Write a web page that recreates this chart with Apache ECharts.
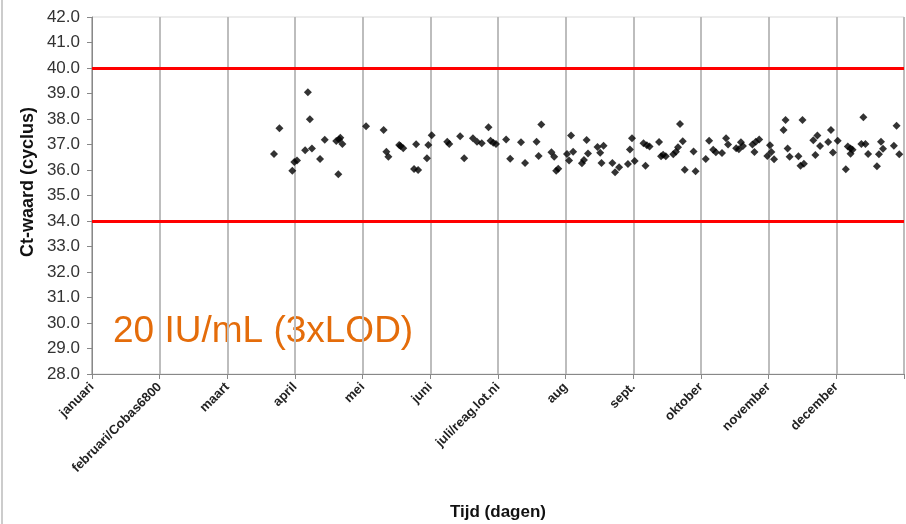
<!DOCTYPE html>
<html>
<head>
<meta charset="utf-8">
<script src="https://cdn.jsdelivr.net/npm/echarts@6/dist/echarts.min.js"></script>
<style>
  html, body { margin: 0; padding: 0; background: #fff; }
  #chart { width: 906px; height: 524px; }
</style>
</head>
<body>
<div id="chart"></div>
<script>
// maanden op de x-as (positie 0..11, as loopt tot 12)
const months = ['januari', 'februari/Cobas6800', 'maart', 'april', 'mei', 'juni',
  'juli/reag.lot.ni', 'aug', 'sept.', 'oktober', 'november', 'december'];

// tijd in maanden (fractie) en Ct-waarde per meting
const tijd = [
  2.69, 2.77, 2.96, 2.99, 3.03, 3.15, 3.19, 3.22, 3.25, 3.37, 3.44, 3.61, 3.65, 3.67, 3.64, 3.70,
  4.05, 4.31, 4.35, 4.38, 4.54, 4.56, 4.60, 4.76, 4.82, 4.79, 4.95, 4.97,
  5.02, 5.25, 5.28, 5.44, 5.50, 5.63, 5.69, 5.76, 5.86, 5.89, 5.93, 5.97,
  6.12, 6.18, 6.34, 6.40, 6.57, 6.60, 6.64, 6.79, 6.83, 6.86, 6.89,
  7.02, 7.05, 7.08, 7.11, 7.24, 7.27, 7.31, 7.33, 7.47, 7.51, 7.56, 7.53, 7.69, 7.73, 7.79, 7.92, 7.95, 7.98,
  8.02, 8.15, 8.20, 8.24, 8.18, 8.38, 8.41, 8.44, 8.48, 8.59, 8.63, 8.66, 8.69, 8.73, 8.76, 8.89, 8.92,
  9.07, 9.12, 9.18, 9.22, 9.31, 9.37, 9.40, 9.52, 9.56, 9.59, 9.62, 9.76, 9.81, 9.86, 9.79, 9.98,
  10.02, 10.04, 10.08, 10.22, 10.25, 10.28, 10.31, 10.44, 10.47, 10.50, 10.52, 10.66, 10.69, 10.72, 10.76,
  10.88, 10.92, 10.95, 11.02, 11.14, 11.17, 11.21, 11.21, 11.24, 11.37, 11.40, 11.43, 11.47,
  11.60, 11.63, 11.66, 11.69, 11.85, 11.89, 11.93
];
const ctWaarde = [
  36.63, 37.64, 35.97, 36.31, 36.37, 36.77, 39.05, 37.99, 36.84, 36.43, 37.19, 37.14, 37.20, 37.26, 35.83, 37.02,
  37.72, 37.57, 36.72, 36.52, 36.98, 36.94, 36.85, 36.04, 36.00, 37.01, 36.46, 36.98,
  37.36, 37.11, 37.02, 37.32, 36.46, 37.25, 37.11, 37.05, 37.68, 37.15, 37.07, 37.02,
  37.20, 36.44, 37.09, 36.27, 37.11, 36.55, 37.78, 36.70, 36.52, 35.97, 36.05,
  36.63, 36.37, 37.35, 36.72, 36.26, 36.39, 37.18, 36.65, 36.90, 36.68, 36.95, 36.27, 36.27, 35.91, 36.11, 36.24, 36.80, 37.25,
  36.35, 37.05, 36.97, 36.92, 36.17, 37.10, 36.54, 36.60, 36.54, 36.62, 36.72, 36.89, 37.80, 37.13, 36.01, 36.73, 35.95,
  36.43, 37.15, 36.79, 36.70, 36.67, 37.25, 37.00, 36.85, 36.81, 37.09, 36.94, 37.00, 37.11, 37.20, 36.71, 36.55,
  36.97, 36.71, 36.42, 37.57, 37.96, 36.84, 36.52, 36.54, 36.17, 37.96, 36.25, 37.17, 36.59, 37.35, 36.94,
  37.10, 37.57, 36.69, 37.15, 36.03, 36.92, 36.84, 36.64, 36.79, 37.02, 38.07, 37.02, 36.63,
  36.15, 36.62, 37.11, 36.83, 36.95, 37.74, 36.62
];

// grenzen
const grenzen = [34, 40];

const chart = echarts.init(document.getElementById('chart'));

chart.setOption({
  animation: false,
  grid: {
    left: 92,
    right: 2,
    top: 17,
    bottom: 150,
    outerBoundsMode: 'none',
    show: true,
    borderColor: '#d9d9d9',
    borderWidth: 1
  },
  graphic: [
    {
      type: 'line',
      shape: { x1: 2, y1: 0, x2: 2, y2: 524 },
      style: { stroke: '#999', lineWidth: 1 }
    },
    {
      type: 'text',
      left: 113,
      top: 313,
      style: {
        text: '20 IU/mL (3xLOD)',
        fill: '#e46c0a',
        font: '37px "Liberation Sans", Arial, sans-serif'
      }
    },
    {
      // as-titel links, iets boven het midden zoals in het origineel
      type: 'text',
      x: 28,
      y: 182,
      rotation: Math.PI / 2,
      style: {
        text: 'Ct-waard (cyclus)',
        fill: '#111',
        font: 'bold 18px "Liberation Sans", Arial, sans-serif',
        align: 'center',
        verticalAlign: 'middle'
      }
    }
  ],
  xAxis: {
    type: 'value',
    min: 0,
    max: 12,
    interval: 1,
    name: 'Tijd (dagen)',
    nameLocation: 'middle',
    nameGap: 130,
    nameTextStyle: {
      fontFamily: '"Liberation Sans", Arial',
      fontWeight: 'bold',
      fontSize: 17,
      color: '#111'
    },
    axisLine: { lineStyle: { color: '#888', width: 1 } },
    axisTick: { show: true, length: 5, lineStyle: { color: '#888' } },
    axisLabel: {
      rotate: 45,
      margin: 11,
      fontFamily: '"Liberation Sans", Arial',
      fontWeight: 'bold',
      fontSize: 13,
      color: '#222',
      formatter: function (v) { return months[v] || ''; }
    },
    splitLine: { show: true, lineStyle: { color: '#bdbdbd', width: 2 } }
  },
  yAxis: {
    type: 'value',
    min: 28,
    max: 42,
    interval: 1,
    axisLine: { show: true, lineStyle: { color: '#888', width: 1 } },
    axisTick: { show: true, length: 5, lineStyle: { color: '#888' } },
    axisLabel: {
      margin: 12,
      fontFamily: '"Liberation Sans", Arial',
      fontSize: 17,
      color: '#333',
      formatter: function (v) { return v.toFixed(1); }
    },
    splitLine: { show: false }
  },
  series: [
    {
      type: 'scatter',
      symbol: 'diamond',
      symbolSize: 8,
      itemStyle: { color: '#000' },
      data: tijd.map((t, i) => [t, ctWaarde[i]]),
      markLine: {
        silent: true,
        symbol: 'none',
        label: { show: false },
        lineStyle: { color: '#ff0000', width: 3, type: 'solid' },
        data: grenzen.map(g => ({ yAxis: g }))
      }
    }
  ]
});
</script>
</body>
</html>
